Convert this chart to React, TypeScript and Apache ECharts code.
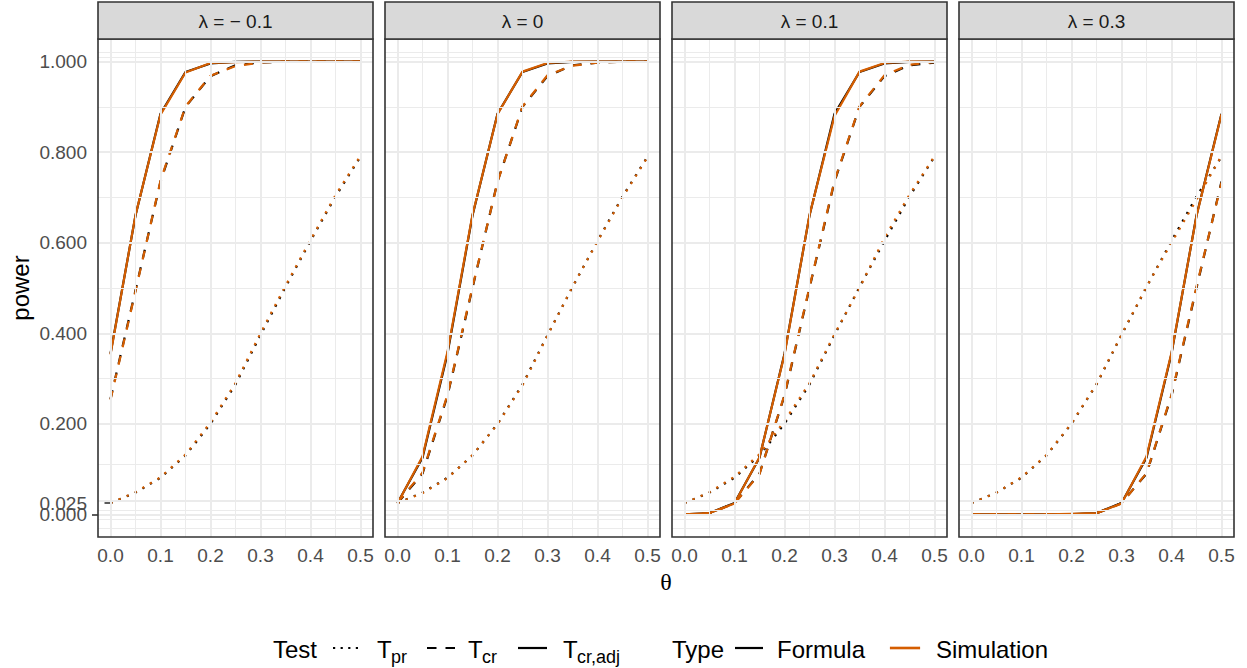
import React, { useEffect, useRef } from "react";
import * as echarts from "echarts";

// ---- data ----
const THETA = [0, 0.05, 0.1, 0.15, 0.2, 0.25, 0.3, 0.35, 0.4, 0.45, 0.5];
const LAMBDA_LABELS = ["− 0.1", "0", "0.1", "0.3"];

const Y_TICKS = [0, 0.025, 0.2, 0.4, 0.6, 0.8, 1.0];
const Y_TICKS_A = [0.025, 0.2, 0.4, 0.6, 0.8, 1.0];
const Y_TICKS_B = [0];
const Y_MINOR = [-0.025, -0.0125, 0.0125, 0.1125, 0.3, 0.5, 0.7, 0.9, 1.0125, 1.025];
const X_TICKS = [0, 0.1, 0.2, 0.3, 0.4, 0.5];
const X_MINOR = [0.05, 0.15, 0.25, 0.35, 0.45];

// T_pr (same formula across panels)
const PR_FORMULA = [0.025, 0.048, 0.081, 0.13, 0.2, 0.287, 0.396, 0.502, 0.604, 0.702, 0.79];
const PR_SIM_1 = [0.025, 0.049, 0.082, 0.132, 0.203, 0.29, 0.4, 0.505, 0.606, 0.705, 0.792];
const PR_SIM_2 = [0.025, 0.047, 0.08, 0.131, 0.199, 0.285, 0.395, 0.503, 0.603, 0.7, 0.789];
const PR_SIM_3 = [0.025, 0.049, 0.083, 0.133, 0.206, 0.29, 0.398, 0.5, 0.611, 0.706, 0.791];
const PR_SIM_4 = [0.025, 0.048, 0.082, 0.131, 0.201, 0.288, 0.397, 0.503, 0.6, 0.695, 0.792];

// T_cr
const CR_FORMULA_1 = [0.255, 0.495, 0.735, 0.9, 0.968, 0.992, 0.998, 1, 1, 1, 1];
const CR_FORMULA_2 = [0.025, 0.09, 0.262, 0.5, 0.735, 0.9, 0.968, 0.992, 0.998, 1, 1];
const CR_FORMULA_3 = [0.0, 0.002, 0.025, 0.09, 0.262, 0.5, 0.735, 0.9, 0.968, 0.992, 0.998];
const CR_FORMULA_4 = [0, 0, 0, 0, 0, 0.002, 0.025, 0.09, 0.262, 0.5, 0.735];
const CR_SIM_1 = [0.253, 0.493, 0.737, 0.901, 0.969, 0.99, 0.998, 1, 1, 1, 1];
const CR_SIM_2 = [0.026, 0.092, 0.264, 0.502, 0.734, 0.901, 0.97, 0.991, 0.998, 1, 1];
const CR_SIM_3 = [0.0, 0.002, 0.024, 0.089, 0.264, 0.502, 0.737, 0.901, 0.97, 0.993, 0.999];
const CR_SIM_4 = [0, 0, 0, 0, 0, 0.002, 0.024, 0.091, 0.264, 0.503, 0.733];

// T_cr,adj
const ADJ_FORMULA_1 = [0.355, 0.66, 0.885, 0.977, 0.996, 0.9995, 1, 1, 1, 1, 1];
const ADJ_FORMULA_2 = [0.025, 0.125, 0.355, 0.66, 0.885, 0.977, 0.996, 0.9995, 1, 1, 1];
const ADJ_FORMULA_3 = [0.0, 0.003, 0.025, 0.125, 0.355, 0.66, 0.885, 0.977, 0.996, 0.9995, 1];
const ADJ_FORMULA_4 = [0, 0, 0, 0, 0.0005, 0.003, 0.025, 0.125, 0.355, 0.66, 0.885];
const ADJ_SIM_1 = [0.353, 0.661, 0.883, 0.976, 0.997, 0.999, 1, 1, 1, 1, 1];
const ADJ_SIM_2 = [0.024, 0.128, 0.359, 0.662, 0.884, 0.978, 0.997, 1, 1, 1, 1];
const ADJ_SIM_3 = [0.0, 0.003, 0.024, 0.126, 0.353, 0.661, 0.88, 0.978, 0.997, 1, 1];
const ADJ_SIM_4 = [0, 0, 0, 0, 0.001, 0.003, 0.024, 0.128, 0.357, 0.659, 0.884];

const PANELS = [
  { pr: [PR_FORMULA, PR_SIM_1], cr: [CR_FORMULA_1, CR_SIM_1], adj: [ADJ_FORMULA_1, ADJ_SIM_1] },
  { pr: [PR_FORMULA, PR_SIM_2], cr: [CR_FORMULA_2, CR_SIM_2], adj: [ADJ_FORMULA_2, ADJ_SIM_2] },
  { pr: [PR_FORMULA, PR_SIM_3], cr: [CR_FORMULA_3, CR_SIM_3], adj: [ADJ_FORMULA_3, ADJ_SIM_3] },
  { pr: [PR_FORMULA, PR_SIM_4], cr: [CR_FORMULA_4, CR_SIM_4], adj: [ADJ_FORMULA_4, ADJ_SIM_4] },
];

// ---- styles ----
const FONT = "Liberation Sans, Arial, sans-serif";
const COL_FORMULA = "#000000";
const COL_SIM = "#D55E00";
const GRID_COL = "#EBEBEB";
const BORDER_COL = "#333333";
const LEFTS = [98, 385, 672, 959];
const TOP = 39;
const W = 275;
const H = 498;
const LW = 2.2;
const DOTTED = [2.2, 6.6];
const DASHED = [9, 9];

export default function App() {
  const ref = useRef<HTMLDivElement>(null);
  useEffect(() => {
    document.body.style.margin = "0";
    const chart = echarts.init(ref.current!, undefined, { renderer: "svg" });

    const grids: any[] = [];
    const xAxes: any[] = [];
    const yAxes: any[] = [];
    const series: any[] = [];
    const graphics: any[] = [];

    const gl = (key: string, v: number, width: number) => ({
      [key]: v,
      lineStyle: { color: GRID_COL, width, type: "solid" },
    });

    const yAxisDef = (i: number, show: boolean, ticks: number[]) => ({
      type: "value",
      gridIndex: i,
      position: "left",
      offset: 0,
      min: -0.05,
      max: 1.05,
      axisLine: { show: false },
      splitLine: { show: false },
      axisTick: { show, customValues: ticks, length: 6, lineStyle: { color: BORDER_COL, width: 1.6 } },
      axisLabel: {
        show,
        customValues: ticks,
        hideOverlap: false,
        formatter: (v: number) => v.toFixed(3),
        color: "#4D4D4D",
        fontSize: 19,
        fontFamily: FONT,
        margin: 11,
      },
    });

    PANELS.forEach((p, i) => {
      grids.push({ left: LEFTS[i], top: TOP, width: W, height: H, show: true, backgroundColor: "#fff", borderWidth: 0 });
      xAxes.push({
        type: "value",
        gridIndex: i,
        min: -0.025,
        max: 0.525,
        axisLine: { show: false },
        splitLine: { show: false },
        axisTick: { show: true, customValues: X_TICKS, length: 6, lineStyle: { color: BORDER_COL, width: 1.6 } },
        axisLabel: {
          show: true,
          customValues: X_TICKS,
          formatter: (v: number) => v.toFixed(1),
          color: "#4D4D4D",
          fontSize: 19,
          fontFamily: FONT,
          margin: 9,
        },
      });
      yAxes.push(yAxisDef(i, i === 0, i === 0 ? Y_TICKS_A : Y_TICKS));
      // gridlines
      series.push({
        type: "line",
        xAxisIndex: i,
        yAxisIndex: i,
        data: [],
        z: 1,
        silent: true,
        markLine: {
          silent: true,
          symbol: ["none", "none"],
          label: { show: false },
          emphasis: { disabled: true },
          data: [
            ...Y_MINOR.map((v) => gl("yAxis", v, 1)),
            ...X_MINOR.map((v) => gl("xAxis", v, 1)),
            ...Y_TICKS.map((v) => gl("yAxis", v, 2)),
            ...X_TICKS.map((v) => gl("xAxis", v, 2)),
          ],
        },
      });
      const tests: [number[][], number[] | string][] = [
        [p.pr, DOTTED],
        [p.cr, DASHED],
        [p.adj, "solid"],
      ];
      [0, 1].forEach((t) => {
        tests.forEach(([vals, dash]) => {
          series.push({
            type: "line",
            xAxisIndex: i,
            yAxisIndex: i,
            z: 3 + t,
            showSymbol: false,
            silent: true,
            data: THETA.map((x, k) => [x, vals[t][k]]),
            lineStyle: { color: t === 0 ? COL_FORMULA : COL_SIM, width: LW, type: dash, cap: "butt", join: "round" },
          });
        });
      });
      // border
      graphics.push({
        type: "rect",
        z: 100,
        shape: { x: LEFTS[i], y: TOP, width: W, height: H },
        style: { fill: "none", stroke: BORDER_COL, lineWidth: 1.6 },
      });
      // strip
      graphics.push({
        type: "rect",
        z: 100,
        shape: { x: LEFTS[i], y: 2, width: W, height: TOP - 2 },
        style: { fill: "#D9D9D9", stroke: BORDER_COL, lineWidth: 1.6 },
      });
      graphics.push({
        type: "text",
        z: 101,
        x: LEFTS[i] + W / 2,
        y: 21,
        style: {
          text: "λ = " + LAMBDA_LABELS[i],
          fill: "#1A1A1A",
          font: `19px ${FONT}`,
          align: "center",
          verticalAlign: "middle",
        },
      });
    });
    // separate axis for the 0.000 label (overlaps 0.025 in the reference)
    yAxes.push(yAxisDef(0, true, Y_TICKS_B));

    // axis titles
    graphics.push({
      type: "text",
      x: 20,
      y: 288,
      rotation: Math.PI / 2,
      style: { text: "power", fill: "#000", font: `24px ${FONT}`, align: "center", verticalAlign: "middle" },
    });
    graphics.push({
      type: "text",
      x: 666,
      y: 582,
      style: { text: "θ", fill: "#000", font: "24px Liberation Serif, serif", align: "center", verticalAlign: "middle" },
    });

    // legend
    const LY = 649;
    const KY = 648;
    const txt = (x: number, s: string, size = 24, y = LY) => ({
      type: "text",
      z: 100,
      x,
      y,
      style: { text: s, fill: "#000", font: `${size}px ${FONT}`, align: "left", verticalAlign: "middle" },
    });
    const dashKey = (x1: number, x2: number, color: string, dash: number[]) => ({
      type: "line",
      z: 100,
      shape: { x1, y1: KY, x2, y2: KY },
      style: { stroke: color, lineWidth: 2.2, lineDash: dash, lineCap: "butt" },
    });
    const solidKey = (x1: number, x2: number, color: string) => ({
      type: "line",
      z: 100,
      shape: { x1, y1: KY, x2, y2: KY },
      style: { stroke: color, lineWidth: 2.2, lineCap: "butt" },
    });
    graphics.push(txt(273, "Test"));
    graphics.push(dashKey(333, 358, COL_FORMULA, [2.2, 5.4]));
    graphics.push(txt(377, "T"));
    graphics.push(txt(391, "pr", 18, 657));
    graphics.push(dashKey(427, 455, COL_FORMULA, [9.5, 9]));
    graphics.push(txt(468, "T"));
    graphics.push(txt(482, "cr", 18, 657));
    graphics.push(solidKey(518, 547, COL_FORMULA));
    graphics.push(txt(563, "T"));
    graphics.push(txt(577, "cr,adj", 18, 657));
    graphics.push(txt(672, "Type"));
    graphics.push(solidKey(735, 763, COL_FORMULA));
    graphics.push(txt(777, "Formula"));
    // Simulation key: drawn as a group holding a thin filled bar
    graphics.push({
      type: "group",
      id: "simKeyGroup",
      x: 890,
      y: KY,
      z: 100,
      children: [
        {
          type: "rect",
          shape: { x: 0, y: -1.2, width: 30, height: 2.4 },
          style: { fill: "rgb(213, 94, 0)", stroke: "rgb(213, 94, 0)", lineWidth: 0.2 },
        },
      ],
    });
    graphics.push(txt(936, "Simulation"));

    chart.setOption({
      animation: false,
      backgroundColor: "#fff",
      grid: grids,
      xAxis: xAxes,
      yAxis: yAxes,
      series,
      graphic: { elements: graphics },
    });
    return () => chart.dispose();
  }, []);
  return <div ref={ref} style={{ width: 1247, height: 668 }} />;
}
